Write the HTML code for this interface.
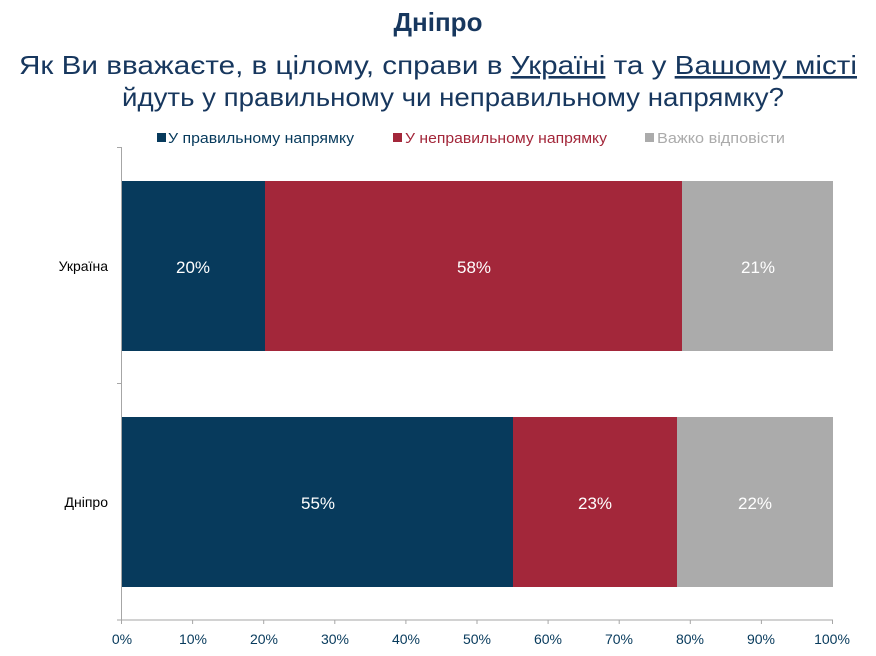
<!DOCTYPE html>
<html><head><meta charset="utf-8"><style>
html,body{margin:0;padding:0;background:#fff;}
svg{display:block;font-family:"Liberation Sans","DejaVu Sans",sans-serif;}
</style></head><body>
<svg width="876" height="656" viewBox="0 0 876 656" xmlns="http://www.w3.org/2000/svg">
<text x="438" y="31" text-anchor="middle" font-size="26" font-weight="bold" fill="#17375e">Дніпро</text>
<text x="19" y="74" font-size="26" fill="#17375e" textLength="838" lengthAdjust="spacingAndGlyphs">Як Ви вважаєте, в цілому, справи в <tspan text-decoration="underline">Україні</tspan> та у <tspan text-decoration="underline">Вашому місті</tspan></text>
<text x="122" y="106" font-size="26" fill="#17375e" textLength="662" lengthAdjust="spacingAndGlyphs">йдуть у правильному чи неправильному напрямку?</text>
<rect x="157" y="133" width="9" height="9" fill="#073a5c"/>
<text x="168" y="143" font-size="15" fill="#073a5c" textLength="186" lengthAdjust="spacingAndGlyphs">У правильному напрямку</text>
<rect x="393" y="133" width="9" height="9" fill="#a3273a"/>
<text x="405" y="143" font-size="15" fill="#a3273a" textLength="202" lengthAdjust="spacingAndGlyphs">У неправильному напрямку</text>
<rect x="645" y="133" width="9" height="9" fill="#ababab"/>
<text x="657" y="143" font-size="15" fill="#ababab" textLength="128" lengthAdjust="spacingAndGlyphs">Важко відповісти</text>
<g stroke="#a6a6a6" stroke-width="1">
<line x1="121.5" y1="147" x2="121.5" y2="620"/>
<line x1="117" y1="147.5" x2="121.5" y2="147.5"/>
<line x1="117" y1="383.5" x2="121.5" y2="383.5"/>
<line x1="117" y1="620" x2="833" y2="620"/>
<line x1="121.5" y1="620" x2="121.5" y2="624"/><line x1="192.6" y1="620" x2="192.6" y2="624"/><line x1="263.7" y1="620" x2="263.7" y2="624"/><line x1="334.8" y1="620" x2="334.8" y2="624"/><line x1="405.9" y1="620" x2="405.9" y2="624"/><line x1="477" y1="620" x2="477" y2="624"/><line x1="548.1" y1="620" x2="548.1" y2="624"/><line x1="619.2" y1="620" x2="619.2" y2="624"/><line x1="690.3" y1="620" x2="690.3" y2="624"/><line x1="761.4" y1="620" x2="761.4" y2="624"/><line x1="832.5" y1="620" x2="832.5" y2="624"/>
</g>
<g font-size="14" fill="#073a5c" text-anchor="middle">
<text x="122" y="644">0%</text><text x="193" y="644">10%</text><text x="264" y="644">20%</text><text x="335" y="644">30%</text><text x="406" y="644">40%</text><text x="477" y="644">50%</text><text x="548" y="644">60%</text><text x="619" y="644">70%</text><text x="690" y="644">80%</text><text x="761" y="644">90%</text><text x="832" y="644">100%</text>
</g>
<g font-size="14" fill="#000" text-anchor="end">
<text x="108" y="271">Україна</text><text x="108" y="507">Дніпро</text>
</g>
<rect x="122" y="181" width="143" height="170" fill="#073a5c"/>
<rect x="265" y="181" width="417" height="170" fill="#a3273a"/>
<rect x="682" y="181" width="151" height="170" fill="#ababab"/>
<rect x="122" y="417" width="391" height="170" fill="#073a5c"/>
<rect x="513" y="417" width="164" height="170" fill="#a3273a"/>
<rect x="677" y="417" width="156" height="170" fill="#ababab"/>
<g font-size="17" fill="#fff" text-anchor="middle">
<text x="193" y="273">20%</text><text x="474" y="273">58%</text><text x="758" y="273">21%</text>
<text x="318" y="509">55%</text><text x="595" y="509">23%</text><text x="755" y="509">22%</text>
</g>
</svg>
</body></html>
